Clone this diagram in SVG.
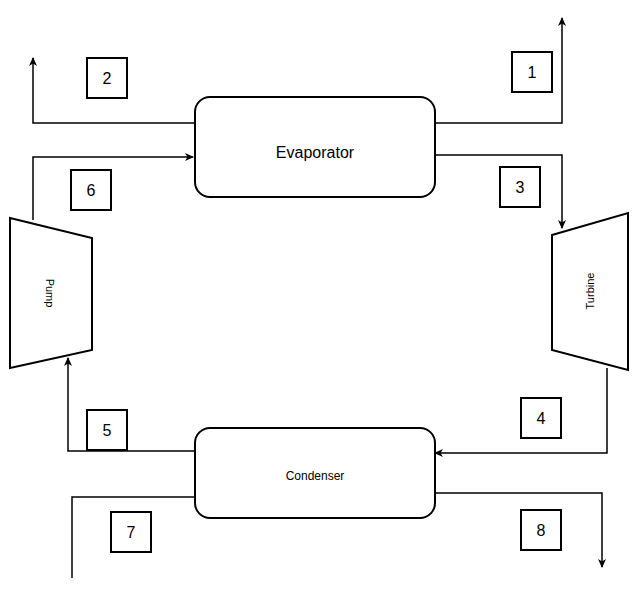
<svg xmlns="http://www.w3.org/2000/svg" width="638" height="597" viewBox="0 0 638 597">
<style>
.s{fill:#fff;stroke:#000;stroke-width:2}
.c{fill:none;stroke:#000;stroke-width:1.5}
.t{font-family:"Liberation Sans",Arial,sans-serif;fill:#000;text-anchor:middle}
</style>
<defs><marker id="a" markerWidth="10" markerHeight="10" refX="8" refY="5" orient="auto" markerUnits="userSpaceOnUse"><path d="M0,1 L9,5 L0,9 L2.5,5 Z" fill="#000"/></marker></defs>
<rect width="638" height="597" fill="#fff"/>
<g id="connectors">
<polyline class="c" points="195,123 33,123 33,58" marker-end="url(#a)"/>
<polyline class="c" points="435,123 562,123 562,18" marker-end="url(#a)"/>
<polyline class="c" points="33,220 33,157 193,157" marker-end="url(#a)"/>
<polyline class="c" points="435,155 562,155 562,228" marker-end="url(#a)"/>
<polyline class="c" points="607,368 607,453 435,453" marker-end="url(#a)"/>
<polyline class="c" points="195,451 68,451 68,358" marker-end="url(#a)"/>
<polyline class="c" points="72,578 72,497 232,497" marker-end="url(#a)"/>
<polyline class="c" points="435,493 602,493 602,567" marker-end="url(#a)"/>
</g>
<g id="evaporator"><rect class="s" x="195" y="97" width="240" height="100" rx="15"/><text class="t" x="315" y="158" font-size="16">Evaporator</text></g>
<g id="condenser"><rect class="s" x="195" y="428" width="240" height="90" rx="15"/><text class="t" x="315" y="480" font-size="12">Condenser</text></g>
<g id="pump"><polygon class="s" points="10,218 92,238 92,350 10,368"/><text class="t" font-size="11" transform="translate(46,293) rotate(90)">Pump</text></g>
<g id="turbine"><polygon class="s" points="552,235 628,213 628,370 552,350"/><text class="t" font-size="11" transform="translate(594,291) rotate(-90)">Turbine</text></g>
<g id="n1"><rect class="s" x="512" y="52" width="40" height="40"/><text class="t" x="532" y="78" font-size="16">1</text></g>
<g id="n2"><rect class="s" x="87" y="58" width="40" height="40"/><text class="t" x="107" y="84" font-size="16">2</text></g>
<g id="n3"><rect class="s" x="500" y="167" width="40" height="40"/><text class="t" x="520" y="193" font-size="16">3</text></g>
<g id="n6"><rect class="s" x="71" y="170" width="40" height="40"/><text class="t" x="91" y="196" font-size="16">6</text></g>
<g id="n4"><rect class="s" x="521" y="398" width="40" height="40"/><text class="t" x="541" y="424" font-size="16">4</text></g>
<g id="n5"><rect class="s" x="87" y="410" width="40" height="40"/><text class="t" x="107" y="436" font-size="16">5</text></g>
<g id="n7"><rect class="s" x="111" y="512" width="40" height="40"/><text class="t" x="131" y="538" font-size="16">7</text></g>
<g id="n8"><rect class="s" x="521" y="510" width="40" height="40"/><text class="t" x="541" y="536" font-size="16">8</text></g>
</svg>
